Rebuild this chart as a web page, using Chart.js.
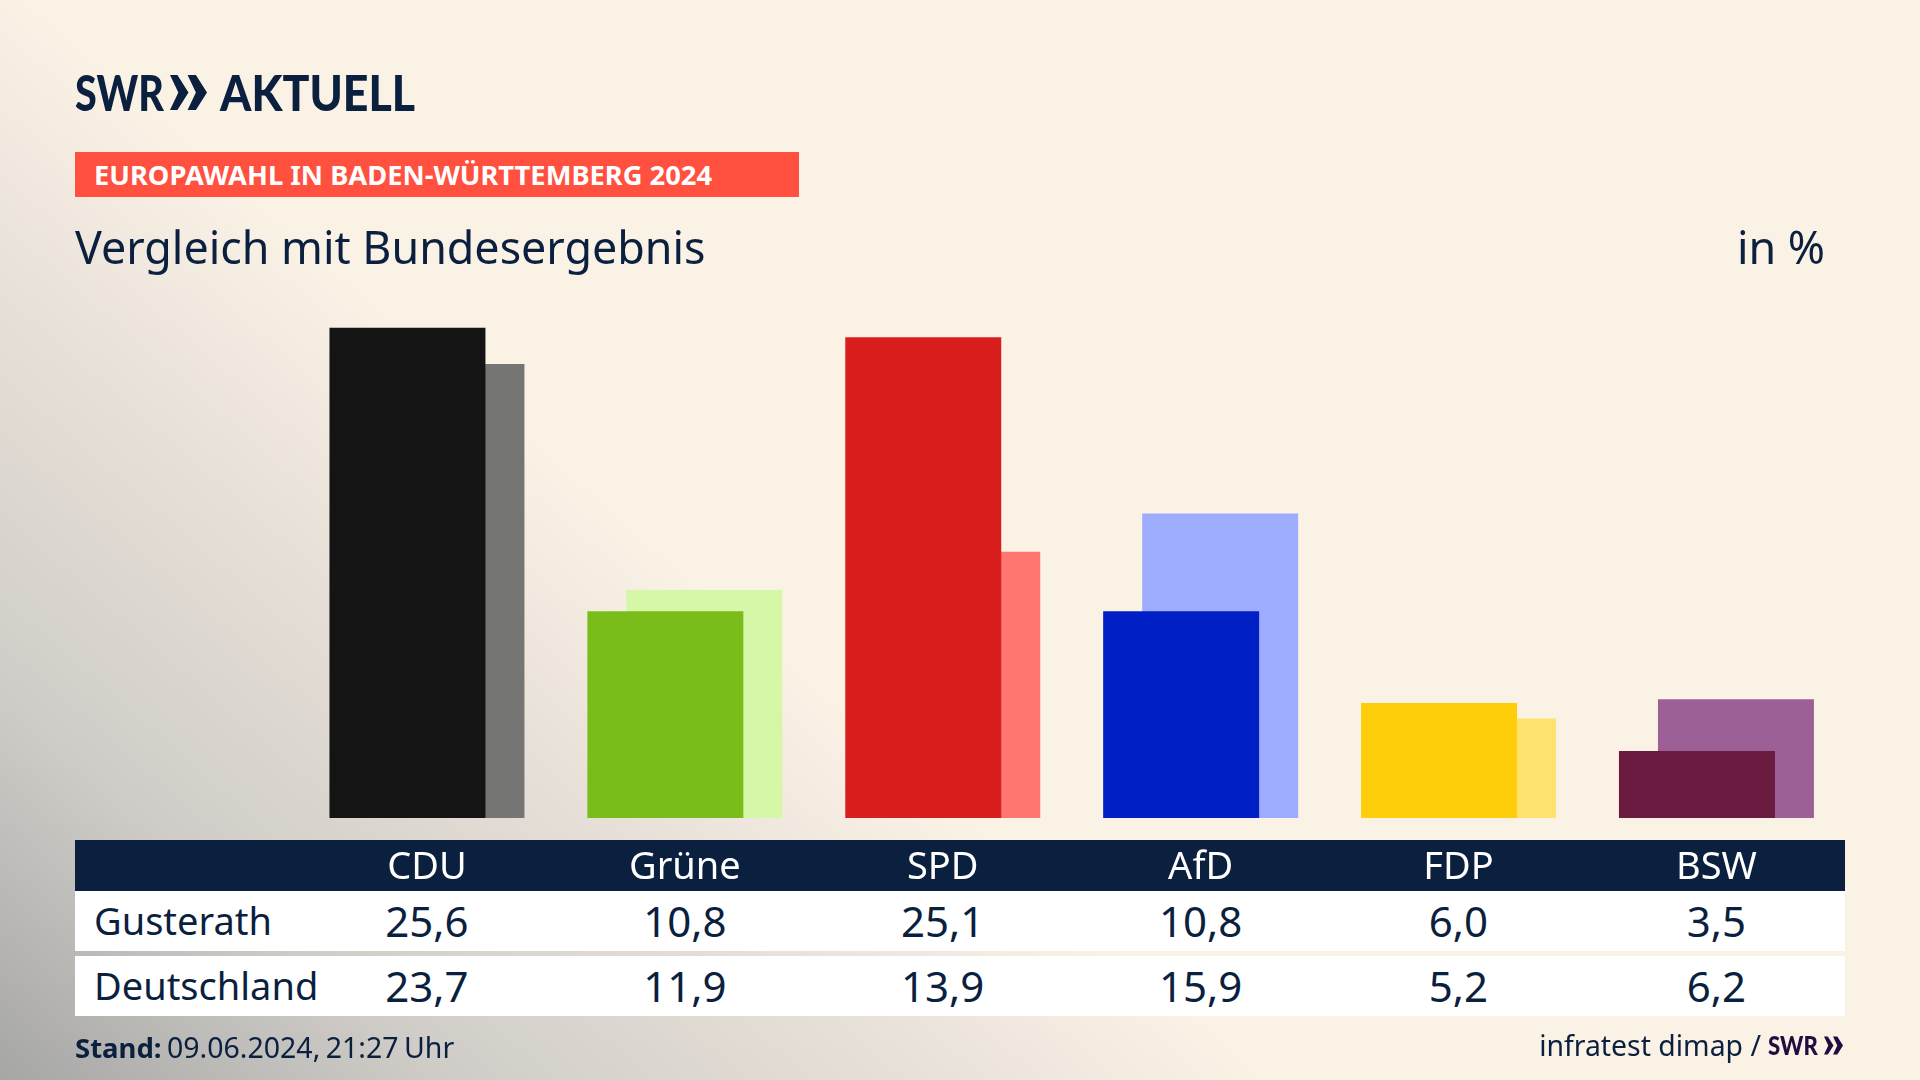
<!DOCTYPE html>
<html lang="de">
<head>
<meta charset="utf-8">
<title>Vergleich mit Bundesergebnis</title>
<script src="https://cdn.jsdelivr.net/npm/chart.js@4"></script>
<style>
  html, body { margin: 0; padding: 0; }
  body {
    position: relative; width: 1920px; height: 1080px; overflow: hidden; color: #0b1f3f;
    font-family: "Noto Sans", sans-serif;
    background: linear-gradient(41deg, #a6a6a5 0%, #cfccc7 14%, #e6dfd7 28%, #fbf2e6 40%);
  }
  .abs { position: absolute; white-space: nowrap; }
  .logo { font-family: Lato, sans-serif; font-weight: 900; transform-origin: left center; }
  #chart { position: absolute; left: 0; top: 0; }
  #swr1 { left: 75px; top: 62px; font-size: 50px; line-height: 60px; transform: scaleX(0.79); }
  #chev1 { left: 170px; top: 74px; }
  #aktuell { left: 220px; top: 62px; font-size: 50px; line-height: 60px; transform: scaleX(0.894); }
  #banner { left: 75px; top: 152px; width: 724px; height: 45px; background: #ff5040; color: #fff; font-size: 27.3px; font-weight: 700; line-height: 45px; text-indent: 19px; }
  #title { left: 75px; top: 219px; font-size: 44.8px; line-height: 56px; }
  #unit { right: 95px; top: 219px; font-size: 44.8px; line-height: 56px; }
  #head { left: 75px; top: 840px; width: 1770px; height: 51px; background: #0b1f3f; }
  .row { position: absolute; left: 75px; width: 1770px; height: 60px; background: #fff; display: grid; grid-template-columns: 223px repeat(6, 257.9px); align-items: center; font-size: 42px; line-height: 60px; text-align: center; }
  .row div:first-child { padding-left: 19px; text-align: left; font-size: 38px; position: relative; top: -1px; }
  #stand { left: 75px; top: 1028px; font-size: 28.5px; line-height: 38px; word-spacing: -2px; }
  #stand b { font-size: 27.5px; }
  #source { right: 159px; top: 1026px; font-size: 28.4px; line-height: 38px; }
  #swr2 { left: 1768px; top: 1027px; font-size: 26px; line-height: 36px; color: #1f0e3f; transform: scaleX(0.85); }
  #chev2 { left: 1824px; top: 1036px; }
</style>
</head>
<body>
<div class="abs" id="head"></div>
<div class="row" id="row0" style="top:891px"></div>
<div class="row" id="row1" style="top:956px"></div>
<canvas id="chart" width="1920" height="1080"></canvas>

<div class="abs logo" id="swr1">SWR</div>
<svg class="abs" id="chev1" width="37" height="37" viewBox="0 0 40 38"><path fill="#0b1f3f" d="M0 0h8l12 19L8 38H0l9-19zM19 0h9l12 19-12 19h-9l9-19z"/></svg>
<div class="abs logo" id="aktuell">AKTUELL</div>
<div class="abs" id="banner">EUROPAWAHL IN BADEN-WÜRTTEMBERG 2024</div>
<div class="abs" id="title">Vergleich mit Bundesergebnis</div>
<div class="abs" id="unit">in %</div>
<div class="abs" id="stand"><b>Stand:</b> 09.06.2024, 21:27 Uhr</div>
<div class="abs" id="source">infratest dimap /</div>
<div class="abs logo" id="swr2">SWR</div>
<svg class="abs" id="chev2" width="19" height="19" viewBox="0 0 40 38"><path fill="#1f0e3f" d="M0 0h8l12 19L8 38H0l9-19zM19 0h9l12 19-12 19h-9l9-19z"/></svg>

<script>
// Daten aus der Grafik
const parties = ['CDU', 'Grüne', 'SPD', 'AfD', 'FDP', 'BSW'];
const gusterath = [25.6, 10.8, 25.1, 10.8, 6.0, 3.5];
const deutschland = [23.7, 11.9, 13.9, 15.9, 5.2, 6.2];
const colorsFront = ['#141414', '#7abd1a', '#d81f1e', '#0020c6', '#ffce0a', '#6b1a40'];
const colorsBack = ['#757573', '#d6f6a8', '#ff756f', '#9eacff', '#ffe170', '#9c6096'];

// Tabellenzeilen unter dem Diagramm
function fillRow(id, label, values) {
  const row = document.getElementById(id);
  [label, ...values.map(v => v.toFixed(1).replace('.', ','))].forEach(text => {
    const cell = document.createElement('div');
    cell.textContent = text;
    row.appendChild(cell);
  });
}
fillRow('row0', 'Gusterath', gusterath);
fillRow('row1', 'Deutschland', deutschland);

new Chart(document.getElementById('chart').getContext('2d'), {
  type: 'bar',
  data: {
    labels: parties,
    datasets: [
      { label: 'Gusterath', data: gusterath, backgroundColor: colorsFront },
      { label: 'Deutschland', data: deutschland, backgroundColor: colorsBack }
    ]
  },
  options: {
    responsive: false,
    animation: false,
    // barPercentage > 1, damit sich die Balken überlappen
    categoryPercentage: 0.3024,
    barPercentage: 4.0,
    layout: { padding: { left: 298, right: 74.6, top: 320, bottom: 189 } },
    plugins: { legend: { display: false }, tooltip: { enabled: false } },
    scales: {
      x: {
        grid: { display: false },
        border: { display: false },
        afterFit: s => { s.height = 73; },
        ticks: {
          color: '#ffffff',
          padding: 19,
          maxRotation: 0,
          font: { family: '"Noto Sans", sans-serif', size: 38 }
        }
      },
      y: { display: false, min: 0, max: 26 }
    }
  }
});
</script>
</body>
</html>
